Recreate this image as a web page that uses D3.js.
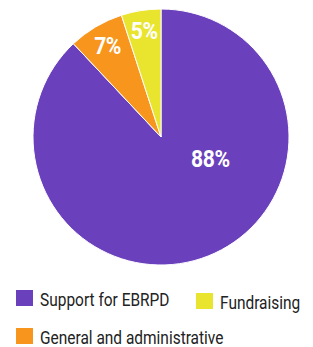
<!DOCTYPE html>
<html>
<head>
<meta charset="utf-8">
<script src="https://cdn.jsdelivr.net/npm/d3@7"></script>
<style>
  body { margin: 0; background: #fff; }
  svg { display: block; }
</style>
</head>
<body>
<svg id="chart" width="313" height="347"></svg>
<script>
// chart data
const categories = ["Support for EBRPD", "General and administrative", "Fundraising"];
const values = [88, 7, 5];
const colors = ["#6a40bd", "#f7951d", "#e9e42d"];

const svg = d3.select("#chart");
const cx = 161, cy = 137, radius = 128;

const pie = d3.pie().sort(null).value((d) => d.value);
const arcs = pie(categories.map((c, i) => ({ name: c, value: values[i], color: colors[i] })));
const arc = d3.arc().innerRadius(0).outerRadius(radius);

const g = svg.append("g").attr("transform", `translate(${cx},${cy})`);

g.selectAll("path")
  .data(arcs)
  .join("path")
  .attr("d", arc)
  .attr("fill", (d) => d.data.color)
  .attr("stroke", "#fff")
  .attr("stroke-width", 1);

// label spots: fraction along the slice and distance from centre
const labelSpot = [
  { t: 0.36, r: 54 },
  { t: 0.5, r: 105 },
  { t: 0.5, r: 107 },
];

g.selectAll("text.pct")
  .data(arcs)
  .join("text")
  .attr("class", "pct")
  .attr("transform", (d, i) => {
    const a = d.startAngle + labelSpot[i].t * (d.endAngle - d.startAngle);
    const x = Math.sin(a) * labelSpot[i].r;
    const y = -Math.cos(a) * labelSpot[i].r;
    return `translate(${x},${y}) scale(0.92,1)`;
  })
  .attr("text-anchor", "middle")
  .attr("dominant-baseline", "central")
  .attr("fill", "#fff")
  .attr("font-family", "Roboto, 'Liberation Sans', sans-serif")
  .attr("font-weight", "bold")
  .attr("font-size", 23)
  .attr("letter-spacing", -0.5)
  .text((d) => d.data.value + "%");

// legend
const legendPos = [
  { x: 16, y: 290 },
  { x: 16, y: 328 },
  { x: 196, y: 293 },
];

const legend = svg.selectAll("g.legend")
  .data(categories)
  .join("g")
  .attr("class", "legend")
  .attr("transform", (d, i) => `translate(${legendPos[i].x},${legendPos[i].y})`);

legend.append("rect")
  .attr("width", 17)
  .attr("height", 16)
  .attr("fill", (d, i) => colors[i]);

legend.append("text")
  .attr("transform", "translate(24,15.5) scale(0.86,1)")
  .attr("fill", "#222")
  .attr("font-family", "Roboto, sans-serif")
  .attr("font-size", 18)
  .text((d) => d);
</script>
</body>
</html>
